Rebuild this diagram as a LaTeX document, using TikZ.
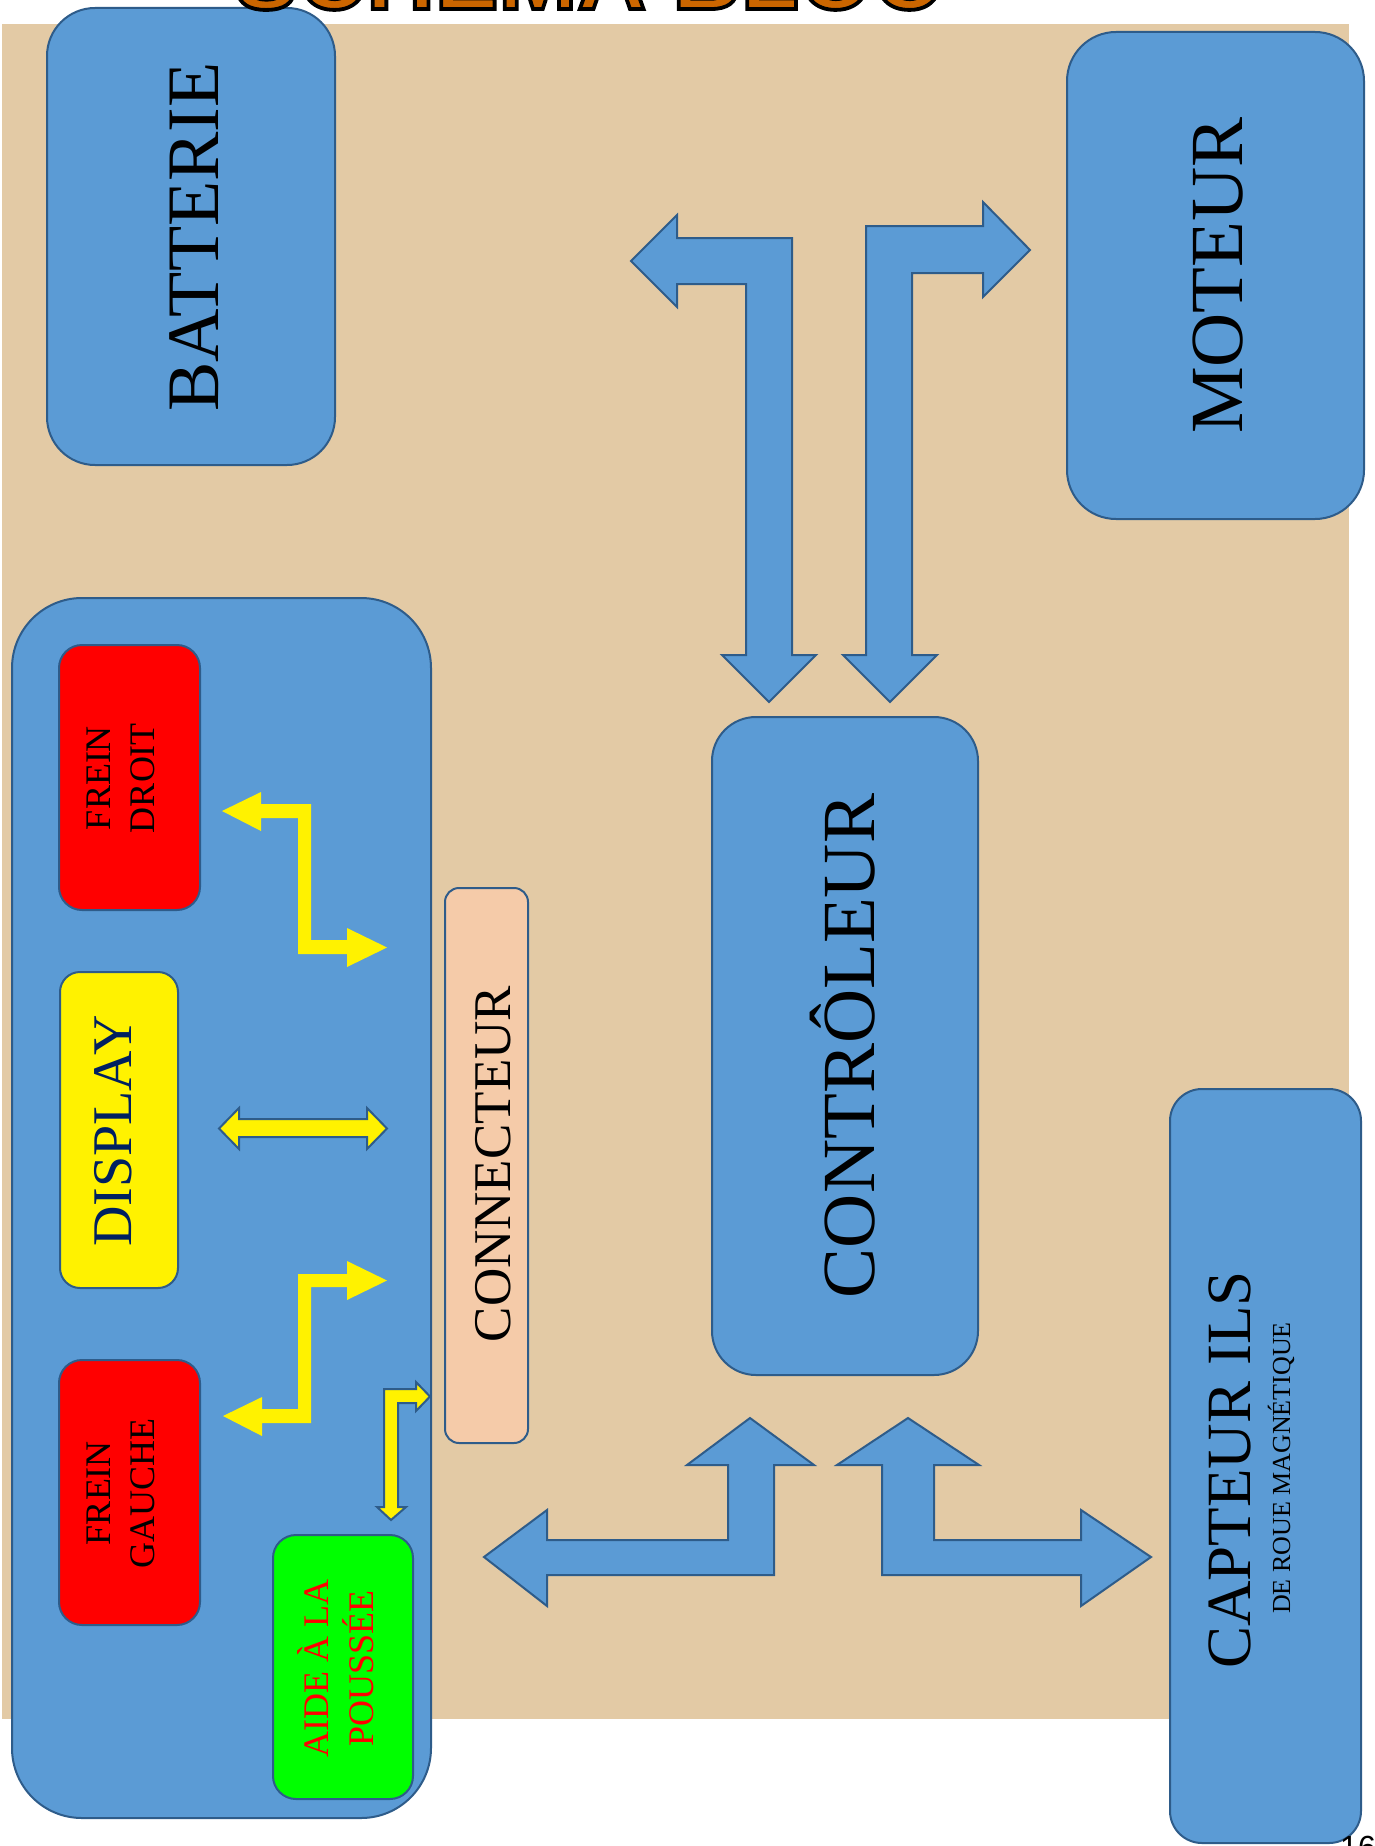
\documentclass[tikz,border=0pt]{standalone}
\usepackage{fontspec}
\setmainfont{Liberation Serif}
\setsansfont{Liberation Sans}
\newfontfamily\titlefont{Liberation Sans}[BoldFeatures={FakeBold=4}]
\definecolor{bgbeige}{HTML}{E3CAA5}
\definecolor{boxblue}{HTML}{5B9BD5}
\definecolor{bordc}{HTML}{2E5C8A}
\definecolor{connfill}{HTML}{F5CBA9}
\definecolor{titleorange}{HTML}{CC6600}
\definecolor{navytxt}{HTML}{002060}
\begin{document}
\begin{tikzpicture}[x=1pt,y=-1pt,
  bbox/.style={draw=bordc, line width=2pt, rounded corners=#1, inner sep=0pt, outer sep=0pt},
  rtxt/.style={rotate=90, inner sep=0pt, align=center},
  blueshape/.style={draw=bordc, line width=2pt, fill=boxblue, line join=miter},
  yelshape/.style={fill=yellow},
  yelout/.style={fill=yellow, draw=bordc, line width=2pt, line join=miter}
]
\fill[white] (0,0) rectangle (1375,1846);
\useasboundingbox (0,0) rectangle (1375,1846);
\fill[bgbeige] (2,24) rectangle (1349,1719);

% boxes
\node[bbox=48pt, fill=boxblue, minimum width=288pt, minimum height=457pt] (bat) at (191,236.5) {};
\node[bbox=49pt, fill=boxblue, minimum width=297pt, minimum height=487pt] (mot) at (1215.5,275.5) {};
\node[bbox=70pt, fill=boxblue, minimum width=419pt, minimum height=1220pt] (left) at (221.5,1208) {};
\node[bbox=23pt, fill=red, minimum width=141pt, minimum height=265pt] (fd) at (129.5,777.5) {};
\node[bbox=20pt, fill=yellow, minimum width=118pt, minimum height=316pt] (disp) at (119,1130) {};
\node[bbox=23pt, fill=red, minimum width=141pt, minimum height=265pt] (fg) at (129.5,1492.5) {};
\node[bbox=23pt, fill=green, minimum width=140pt, minimum height=264pt] (aide) at (343,1667) {};
\node[bbox=14pt, fill=connfill, minimum width=83pt, minimum height=555pt] (conn) at (486.5,1165.5) {};
\node[bbox=44pt, fill=boxblue, minimum width=266pt, minimum height=658pt] (ctrl) at (845,1046) {};
\node[bbox=32pt, fill=boxblue, minimum width=191pt, minimum height=754pt] (capt) at (1265.5,1466) {};

% texts
\node[rtxt, font=\fontsize{74}{80}\selectfont] (tbat) at (194,237) {BATTERIE};
\node[rtxt, font=\fontsize{75}{80}\selectfont] (tmot) at (1218,275.5) {MOTEUR};
\node[rtxt, anchor=base, font=\fontsize{75}{80}\selectfont] (tctrl) at (874,1046) {CONTRÔLEUR};
\node[rtxt, font=\fontsize{53}{58}\selectfont] (tconn) at (493,1164) {CONNECTEUR};
\node[rtxt, text=navytxt, font=\fontsize{56}{60}\selectfont] (tdisp) at (113,1131) {DISPLAY};
\node[rtxt, font=\fontsize{36}{44.7}\selectfont] (tfd) at (121,778) {FREIN\\DROIT};
\node[rtxt, font=\fontsize{36}{44.7}\selectfont] (tfg) at (121,1493) {FREIN\\GAUCHE};
\node[rtxt, text=red, font=\fontsize{36}{44.7}\selectfont] (taide) at (336,1668) {AIDE À LA\\POUSSÉE};
\node[rtxt, anchor=base, font=\fontsize{63}{70}\selectfont] (tcapt) at (1250,1470) {CAPTEUR ILS};
\node[rtxt, anchor=base, font=\fontsize{26}{30}\selectfont] (tcapt2) at (1290,1468) {DE ROUE MAGNÉTIQUE};

% blue block arrows
\path[blueshape] (631,261) -- (677,215) -- (677,238) -- (792,238) -- (792,655) -- (816,655) -- (769,702) -- (722,655) -- (746,655) -- (746,284) -- (677,284) -- (677,307) -- cycle;
\path[blueshape] (843,655) -- (866,655) -- (866,226) -- (983,226) -- (983,202) -- (1030,250) -- (983,297) -- (983,273) -- (912,273) -- (912,655) -- (937,655) -- (890,702) -- cycle;
\path[blueshape] (750,1418) -- (814,1465) -- (774,1465) -- (774,1575) -- (547,1575) -- (547,1606) -- (484,1557) -- (547,1510) -- (547,1540) -- (728,1540) -- (728,1465) -- (687,1465) -- cycle;
\path[blueshape] (908,1418) -- (979,1465) -- (934,1465) -- (934,1540) -- (1081,1540) -- (1081,1510) -- (1151,1557) -- (1081,1606) -- (1081,1575) -- (882,1575) -- (882,1465) -- (837,1465) -- cycle;

% yellow arrows
\path[yelshape] (222,811) -- (261,792) -- (261,804) -- (311,804) -- (311,940) -- (347,940) -- (347,928) -- (387,947.5) -- (347,967) -- (347,954) -- (298,954) -- (298,818) -- (261,818) -- (261,831) -- cycle;
\path[yelout] (219,1128.5) -- (239,1108) -- (239,1119) -- (367,1119) -- (367,1108) -- (387,1128.5) -- (367,1149) -- (367,1137) -- (239,1137) -- (239,1149) -- cycle;
\path[yelshape] (387,1280.5) -- (347,1261) -- (347,1274) -- (298,1274) -- (298,1409) -- (262,1409) -- (262,1397) -- (223,1416) -- (262,1436) -- (262,1423) -- (311,1423) -- (311,1287) -- (347,1287) -- (347,1300) -- cycle;
\path[yelout] (430,1396.5) -- (416,1382) -- (416,1389) -- (384,1389) -- (384,1507) -- (377,1507) -- (391,1520) -- (406,1507) -- (398,1507) -- (398,1403) -- (416,1403) -- (416,1411) -- cycle;

% title (cut off at top) and page number
\node[anchor=base, inner sep=0pt] (title) at (588,9) {\titlefont\bfseries\fontsize{95}{100}\selectfont\color{titleorange}\special{pdf:literal direct 0 0 0 RG}SCHÉMA BLOC};
\node[anchor=north west, inner sep=0pt, font=\sffamily\fontsize{32}{34}\selectfont] (pnum) at (1340,1836) {16};
\end{tikzpicture}
\end{document}
